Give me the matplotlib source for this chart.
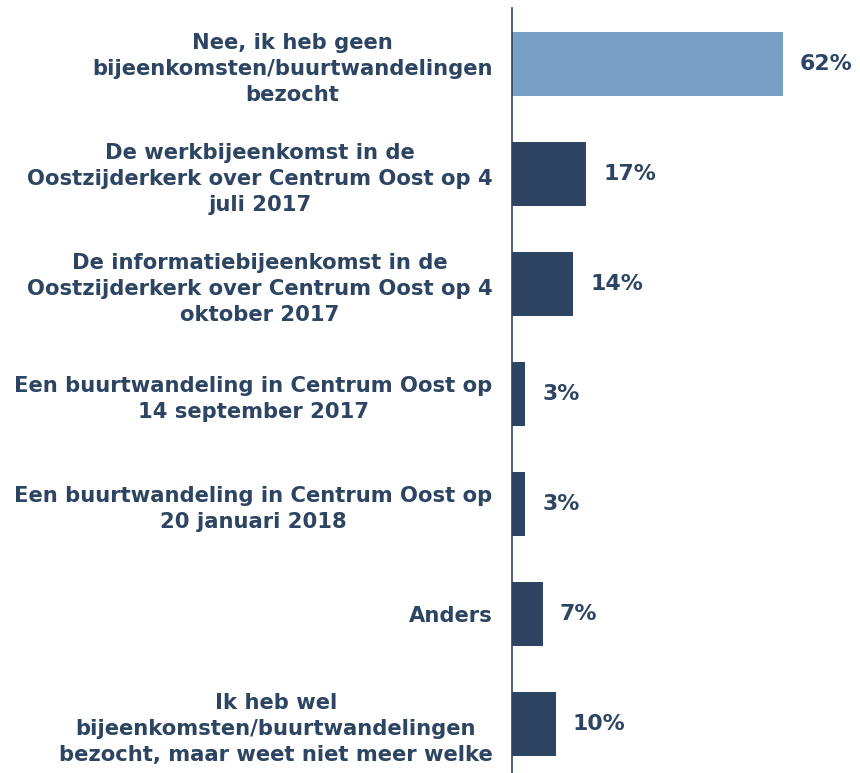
import numpy as np
import matplotlib.pyplot as plt

labels = [
    "Nee, ik heb geen\nbijeenkomsten/buurtwandelingen\nbezocht",
    "De werkbijeenkomst in de\nOostzijderkerk over Centrum Oost op 4\njuli 2017",
    "De informatiebijeenkomst in de\nOostzijderkerk over Centrum Oost op 4\noktober 2017",
    "Een buurtwandeling in Centrum Oost op\n14 september 2017",
    "Een buurtwandeling in Centrum Oost op\n20 januari 2018",
    "Anders",
    "Ik heb wel\nbijeenkomsten/buurtwandelingen\nbezocht, maar weet niet meer welke",
]
values = [62, 17, 14, 3, 3, 7, 10]

dark = '#2d4562'
light = '#789fc6'
colors = [light] + [dark] * (len(values) - 1)

fig = plt.figure(figsize=(8.6, 7.73), dpi=100)
ax = fig.add_axes([512 / 860, 0, 1 - 512 / 860, 1 - 8 / 773])

y = np.arange(len(values))
ax.barh(y, values, height=0.58, color=colors)
ax.set_xlim(0, 348 / 4.37)
ax.set_ylim((773 - 64) / 110, -(64 - 8) / 110)

for yi, v in zip(y, values):
    ax.text(v + 17 / 4.37, yi, f"{v}%", va='center', ha='left',
            fontsize=15.8, fontweight='bold', color=dark)

ax.set_yticks(y)
ax.set_yticklabels(labels, fontsize=15.2, fontweight='bold', color=dark,
                   multialignment='center', linespacing=1.37)
ax.tick_params(axis='y', length=0, pad=14)
ax.set_xticks([])
for s in ['top', 'right', 'bottom']:
    ax.spines[s].set_visible(False)
ax.spines['left'].set_color(dark)
ax.spines['left'].set_linewidth(1.2)

fig.savefig('out.png', dpi=100)
